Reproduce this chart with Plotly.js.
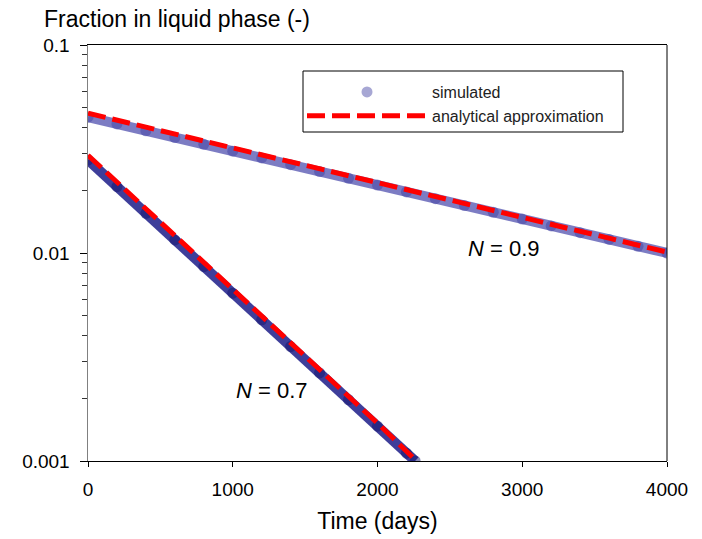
<!DOCTYPE html>
<html>
<head>
<meta charset="utf-8">
<script src="https://cdn.plot.ly/plotly-3.0.1.min.js"></script>
<style>body{margin:0;padding:0;background:#fff}#chart{width:702px;height:539px}</style>
</head>
<body>
<div id="chart"></div>
<script>
// Simulated, N = 0.9
const simTime09 = [0,200,400,600,800,1000,1200,1400,1600,1800,2000,2200,2400,2600,2800,3000,3200,3400,3600,3800,4000];
const simFrac09 = [0.0450,0.04172,0.03870,0.03590,0.03330,0.03088,0.02865,0.02657,0.02465,0.02286,0.02120,0.01967,0.01824,0.01692,0.01570,0.01456,0.01350,0.01252,0.01162,0.01077,0.01000];
// Simulated, N = 0.7
const simTime07 = [0,200,400,600,800,1000,1200,1400,1600,1800,2000,2200,2260];
const simFrac07 = [0.0280,0.02085,0.01552,0.01156,0.00861,0.00641,0.00477,0.00355,0.00265,0.00197,0.00147,0.00109,0.00100];
// Analytical approximation
const anTime09 = [0,1000,2000,3000,4000];
const anFrac09 = [0.0470,0.0320,0.0218,0.0148,0.0101];
const anTime07 = [0,1000,2000,2270];
const anFrac07 = [0.0295,0.0067,0.00152,0.00100];
// Labels
const seriesNames = ['simulated','analytical approximation'];
const curveLabels = ['<i>N</i> = 0.9','<i>N</i> = 0.7'];
const labelX = [2610, 1010];
const labelY = [0.01056, 0.00219];
const xTicks = [0,1000,2000,3000,4000];
const yTicks = [0.001,0.01,0.1];
const yTickText = ['0.001','0.01','0.1'];

const font = 'Arial, "Liberation Sans", sans-serif';
const dash = '18px,7px';
const W = 702, H = 539, L = 88, R = 667, T = 45, B = 461;
const px = v => (v - L) / (R - L);
const py = v => 1 - (v - T) / (B - T);

const traces = [
  {x: simTime09, y: simFrac09, mode: 'lines', showlegend: false,
   line: {color: 'rgba(80,80,175,0.75)', width: 10}},
  {x: simTime09, y: simFrac09, name: seriesNames[0], mode: 'markers', showlegend: true,
   marker: {color: 'rgba(60,60,160,0.45)', size: 11}},
  {x: simTime07, y: simFrac07, mode: 'lines', showlegend: false,
   line: {color: 'rgba(35,35,140,0.88)', width: 10}},
  {x: simTime07, y: simFrac07, name: seriesNames[0], mode: 'markers', showlegend: false,
   marker: {color: 'rgba(20,20,110,0.5)', size: 11}},
  {x: anTime09, y: anFrac09, name: seriesNames[1], mode: 'lines', showlegend: true,
   line: {color: '#ff0000', width: 5, dash: dash}},
  {x: anTime07, y: anFrac07, name: seriesNames[1], mode: 'lines', showlegend: false,
   line: {color: '#ff0000', width: 5, dash: dash}}
];

const layout = {
  width: W, height: H,
  margin: {l: L, r: W - R, t: T, b: H - B, autoexpand: false},
  paper_bgcolor: '#fff', plot_bgcolor: '#fff',
  font: {family: font, color: '#000', size: 19},
  title: {text: 'Fraction in liquid phase (-)', x: 44/W, xanchor: 'left', xref: 'container', y: 1 - 19/H, yanchor: 'middle', yref: 'container',
          font: {family: font, size: 23, color: '#000'}},
  xaxis: {range: [0, 4000], tickvals: xTicks, ticks: 'outside', ticklen: 5, tickcolor: '#000', tickangle: 0,
          showline: true, linecolor: '#000', linewidth: 1, mirror: true, showgrid: false, zeroline: false,
          ticklabelstandoff: 6,
          tickfont: {size: 19}, title: {text: 'Time (days)', font: {size: 23}, standoff: 14}},
  yaxis: {type: 'log', range: [-3, -1], tickvals: yTicks, ticktext: yTickText, ticks: 'outside', ticklen: 7,
          tickcolor: '#000', showline: true, linecolor: '#808080', linewidth: 1.5, showgrid: false, zeroline: false,
          ticklabelstandoff: 6,
          tickfont: {size: 19},
          minor: {ticks: 'outside', ticklen: 5, tickcolor: '#333', dtick: 'D1', showgrid: false}},
  showlegend: true,
  legend: {x: px(302), xanchor: 'left', y: py(75), yanchor: 'top', xref: 'paper', yref: 'paper',
           bgcolor: 'rgba(0,0,0,0)', borderwidth: 0, itemwidth: 120,
           font: {size: 16, color: '#222'}, tracegroupgap: 0},
  annotations: [
    {x: labelX[0], y: Math.log10(labelY[0]), xref: 'x', yref: 'y', text: curveLabels[0], showarrow: false, xanchor: 'left', yanchor: 'middle', font: {size: 22}},
    {x: labelX[1], y: Math.log10(labelY[1]), xref: 'x', yref: 'y', text: curveLabels[1], showarrow: false, xanchor: 'left', yanchor: 'middle', font: {size: 22}}
  ],
  shapes: [
    {type: 'line', xref: 'paper', yref: 'paper', x0: 1, x1: 1, y0: 0, y1: 1, line: {color: '#000', width: 1}},
    {type: 'rect', xref: 'paper', yref: 'paper', x0: px(303), x1: px(623), y0: py(132), y1: py(71),
     fillcolor: '#fff', line: {color: '#000', width: 1}, layer: 'above'}
  ]
};

Plotly.newPlot('chart', traces, layout, {displayModeBar: false, staticPlot: true});
</script>
</body>
</html>
